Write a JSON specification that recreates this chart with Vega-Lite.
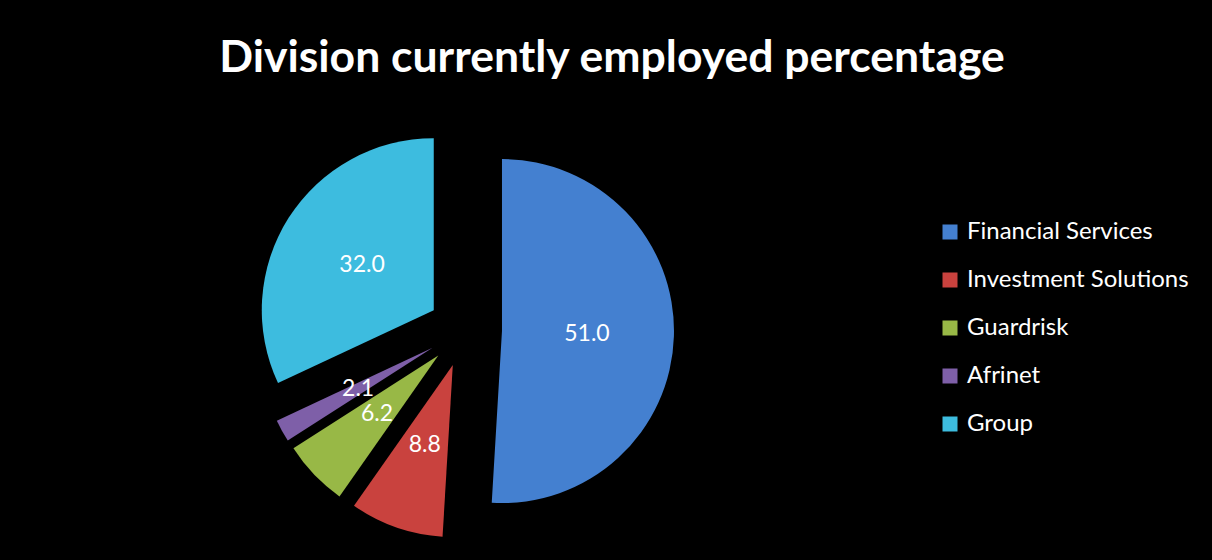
{
  "$schema": "https://vega.github.io/schema/vega-lite/v6.json",
  "width": 930,
  "height": 460,
  "autosize": {"type": "none"},
  "padding": {"top": 100, "left": 0, "right": 282, "bottom": 0},
  "background": "black",
  "config": {"view": {"stroke": null}},
  "title": {
    "text": "Division currently employed percentage",
    "color": "white",
    "font": "Lato",
    "fontSize": 44.5,
    "fontWeight": "bold",
    "anchor": "middle",
    "frame": "group",
    "dx": 147,
    "dy": 43,
    "baseline": "alphabetic",
    "offset": 27
  },
  "data": {
    "values": [
      {"division": "Financial Services", "pct": 51.0},
      {"division": "Investment Solutions", "pct": 8.8},
      {"division": "Guardrisk", "pct": 6.2},
      {"division": "Afrinet", "pct": 2.1},
      {"division": "Group", "pct": 32.0}
    ]
  },
  "transform": [{"window": [{"op": "row_number", "as": "seq"}]}],
  "encoding": {
    "theta": {"field": "pct", "type": "quantitative", "stack": true},
    "order": {"field": "seq", "type": "quantitative"}
  },
  "layer": [
    {
      "mark": {
        "type": "arc",
        "outerRadius": 172,
        "xOffset": {"expr": "37*sin(scale('theta', (datum.pct_start + datum.pct_end)/2))"},
        "yOffset": {"expr": "-37*cos(scale('theta', (datum.pct_start + datum.pct_end)/2))"}
      },
      "encoding": {
        "color": {
          "field": "division",
          "type": "nominal",
          "sort": ["Financial Services", "Investment Solutions", "Guardrisk", "Afrinet", "Group"],
          "scale": {
            "domain": ["Financial Services", "Investment Solutions", "Guardrisk", "Afrinet", "Group"],
            "range": ["#4480D0", "#C9423E", "#98B846", "#7E5FA8", "#3DBCDF"]
          },
          "legend": {
            "orient": "none",
            "legendX": 938,
            "legendY": 120,
            "title": null,
            "symbolType": "square",
            "symbolSize": 225,
            "symbolStrokeWidth": 0,
            "symbolOpacity": 1,
            "labelFont": "Lato",
            "labelFontSize": 24,
            "labelLimit": 400,
            "labelColor": "white",
            "labelOffset": 5,
            "rowPadding": 24,
            "padding": 0
          }
        }
      }
    },
    {
      "mark": {"type": "text", "radius": 122, "font": "Lato", "fontSize": 23},
      "encoding": {
        "text": {"field": "pct", "type": "quantitative", "format": ".1f"},
        "color": {"value": "white"}
      }
    }
  ]
}
